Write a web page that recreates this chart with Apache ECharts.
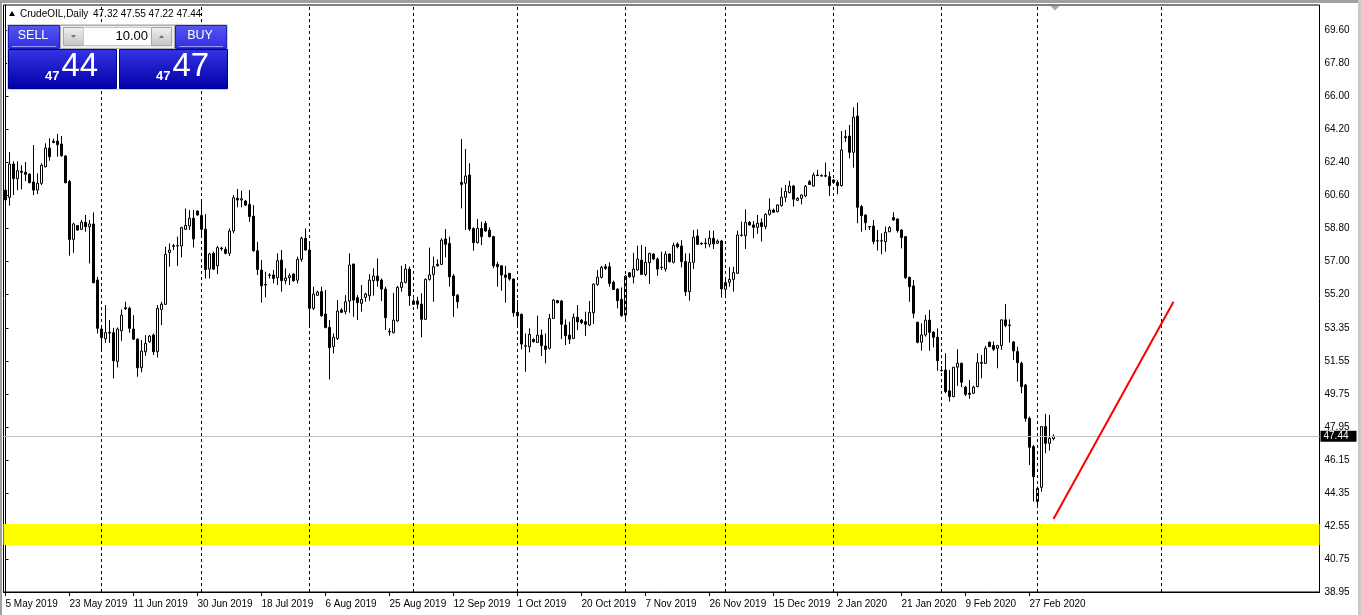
<!DOCTYPE html>
<html><head><meta charset="utf-8">
<script src="https://cdn.jsdelivr.net/npm/echarts@6/dist/echarts.min.js"></script>
<style>html,body{margin:0;padding:0;background:#fff;overflow:hidden}#c{width:1361px;height:615px}</style>
</head><body><div id="c"></div>
<script>
// ---- data (daily candles, 6 bars per week Sun..Fri) ----
const startDate = [2019, 4, 5]; // 5 May 2019 (first bar)
const opens = [60.87,60.47,62.29,61.49,61.89,61.84,61.74,61.31,60.87,61.24,62.14,63.16,63.53,63.54,63.38,62.73,61.34,58.18,58.94,58.73,59.11,58.87,59.02,55.96,53.29,52.76,53.11,53.09,51.53,53.20,54.45,54.42,53.29,52.74,51.18,52.05,52.60,52.96,52.05,54.36,54.64,57.47,57.80,57.82,57.82,58.73,58.91,59.33,59.73,59.49,58.73,56.56,57.42,56.74,57.71,57.64,57.42,58.64,60.42,60.33,60.27,60.09,59.45,57.56,56.51,55.73,56.24,56.24,56.09,57.05,55.93,56.09,56.29,55.96,57.09,58.24,57.60,54.42,55.13,55.33,54.11,53.38,52.33,52.78,54.33,54.24,54.82,56.84,55.00,54.69,55.02,55.11,55.93,56.18,55.96,55.47,53.16,53.09,53.73,55.56,55.84,56.56,54.64,54.82,54.65,53.82,56.00,56.27,56.82,56.82,58.20,57.96,56.18,55.14,61.29,61.24,61.69,58.78,58.00,58.78,59.05,58.69,58.33,56.82,56.74,56.24,56.33,56.02,54.20,54.09,52.38,52.33,52.73,52.56,52.96,52.36,52.24,53.87,54.84,54.82,53.51,52.96,52.78,53.93,53.78,53.69,53.51,54.18,55.73,56.11,56.69,56.69,55.84,55.47,54.91,54.05,56.36,56.14,56.51,57.05,56.27,56.91,57.38,57.11,56.67,56.56,57.38,56.93,57.93,57.82,56.97,55.33,56.93,58.37,57.96,57.98,57.91,58.24,57.97,58.09,55.46,55.84,56.00,56.33,58.42,58.38,59.11,58.97,58.84,59.09,58.88,59.55,59.78,59.69,60.02,60.48,60.73,61.09,60.31,60.42,60.55,61.33,61.09,61.69,61.66,61.66,61.60,61.42,61.29,61.11,63.78,63.82,62.93,64.91,59.97,59.51,58.88,58.91,58.11,58.10,58.06,58.60,59.37,59.29,58.69,58.33,56.11,55.64,53.66,52.57,52.97,53.78,53.11,52.84,51.04,51.06,49.92,49.61,51.21,51.42,50.12,49.79,49.79,50.15,51.46,51.42,52.57,52.39,52.24,52.39,53.79,53.51,52.59,52.06,51.42,50.24,48.42,46.88,43.88,44.66,47.97,47.06,47.32];
const highs = [60.95,62.94,62.44,62.44,62.22,62.40,61.78,63.33,61.78,62.33,63.42,63.69,63.67,63.93,63.82,62.78,61.42,59.09,58.96,59.24,59.51,59.24,59.65,56.14,53.42,54.60,53.78,53.35,53.38,54.36,54.78,54.51,54.05,52.78,52.69,52.96,52.96,53.05,54.60,54.78,57.78,57.96,57.93,58.33,58.87,59.87,59.78,59.78,59.75,60.27,59.56,57.45,57.51,57.82,57.78,57.78,58.78,60.60,60.93,60.84,60.33,60.87,60.05,58.05,57.05,56.42,56.33,56.51,57.42,57.60,56.60,56.33,56.33,57.24,58.33,58.78,57.96,55.60,55.38,55.60,55.42,53.78,53.05,54.87,54.42,55.14,57.42,56.84,55.14,55.69,55.27,56.29,56.60,57.14,56.05,55.60,53.33,55.27,55.64,56.74,56.84,56.69,54.96,55.05,55.24,56.05,57.73,57.24,57.09,58.24,58.74,58.33,56.29,55.20,63.65,63.11,62.33,58.84,59.29,59.14,59.18,58.84,58.38,56.96,56.78,56.74,56.33,56.05,54.87,54.14,53.05,53.33,52.78,54.02,53.27,53.05,54.11,54.93,54.87,54.87,53.82,53.69,54.14,54.60,53.84,54.24,54.82,55.78,56.51,56.74,56.84,56.93,55.93,55.51,55.56,56.24,56.38,57.45,57.84,57.87,57.78,57.45,57.42,57.20,57.51,57.54,57.42,58.00,58.02,58.14,57.42,57.42,58.69,58.73,58.02,58.24,58.66,58.66,58.18,58.15,56.02,56.66,56.69,58.66,59.15,59.82,59.18,59.18,59.51,59.33,59.60,60.42,59.86,60.09,61.00,61.15,61.38,61.15,60.48,60.64,61.15,61.42,61.82,61.97,61.73,62.37,61.88,61.46,61.42,64.09,64.15,64.42,65.38,65.64,60.06,59.55,58.88,59.24,58.69,58.51,58.88,58.91,59.66,59.33,58.73,58.37,56.15,55.97,53.69,53.60,54.06,54.33,53.18,53.33,51.28,51.97,51.06,51.21,52.19,51.46,50.19,50.52,50.19,51.97,51.88,52.37,52.61,52.61,52.43,53.82,54.66,53.82,52.62,52.33,51.52,50.30,48.52,46.97,44.70,47.97,48.66,48.61,47.55];
const lows = [60.23,60.02,60.60,60.87,60.91,61.36,61.24,60.60,60.65,61.14,62.11,62.47,63.42,62.69,62.69,61.24,57.29,57.45,58.65,58.69,58.60,56.87,55.78,53.05,52.14,52.54,52.54,50.60,51.20,52.65,54.33,53.09,52.69,50.69,50.93,51.82,52.54,51.87,51.74,53.51,54.60,56.69,57.60,56.74,57.20,58.69,58.69,57.74,59.48,58.33,56.05,56.05,56.51,56.29,57.56,57.36,57.27,58.51,59.93,59.93,60.00,59.14,57.51,56.24,54.73,55.02,56.05,55.78,55.69,55.33,55.73,55.69,55.87,55.78,56.96,57.56,53.51,54.33,55.11,53.96,53.33,50.54,51.96,52.69,54.18,54.09,54.18,53.96,53.78,54.24,54.78,54.84,55.11,55.60,54.82,53.24,52.93,53.05,53.69,55.33,55.78,54.56,54.60,54.38,52.84,53.78,55.93,54.78,56.69,56.78,57.20,55.60,53.96,54.42,59.87,58.69,58.64,57.56,57.96,57.87,58.60,58.29,56.60,55.60,55.38,54.73,55.93,53.96,53.42,52.18,50.96,52.02,52.56,52.54,51.82,51.42,52.18,53.84,54.69,52.74,52.42,52.47,52.74,53.24,53.56,52.91,53.45,53.56,55.65,56.05,56.51,55.60,55.42,54.42,53.96,53.69,56.10,55.78,56.47,56.24,56.18,55.74,57.05,56.20,56.51,56.42,56.93,56.87,57.69,56.65,55.09,54.84,56.57,57.88,57.88,57.69,57.75,57.66,57.93,55.00,55.15,55.60,55.33,56.29,58.33,57.66,58.93,58.24,58.48,58.06,58.73,59.48,59.64,59.66,59.97,60.22,60.69,59.97,60.29,60.09,60.48,61.15,61.06,61.64,61.60,61.57,60.55,61.24,60.64,61.06,63.51,62.60,62.09,59.06,58.60,58.69,58.69,57.91,57.57,57.37,57.51,58.57,59.20,58.55,57.69,56.02,54.78,53.88,52.51,52.11,52.88,52.11,52.29,51.02,50.97,49.79,49.33,49.57,50.19,50.12,49.64,49.48,49.75,50.12,50.61,51.39,52.33,52.10,51.15,52.15,53.39,52.55,51.61,50.42,49.79,48.24,45.88,43.88,43.61,44.42,46.52,46.66,47.22];
const closes = [60.33,62.29,61.49,61.93,61.84,61.73,61.27,60.87,61.24,62.22,63.16,62.69,63.47,63.34,62.74,61.27,58.18,59.02,58.69,59.11,58.87,59.02,55.82,53.33,52.82,53.09,53.07,51.56,53.29,54.05,54.40,53.33,52.74,51.18,52.09,52.51,52.91,52.05,54.42,54.65,57.36,57.60,57.84,57.84,58.82,58.94,59.33,58.20,59.51,58.73,56.54,57.38,56.56,57.73,57.67,57.42,58.64,60.45,60.33,60.40,60.05,59.42,57.56,56.54,55.65,55.69,56.22,56.05,57.02,55.93,56.07,56.20,55.93,57.09,58.24,57.60,54.42,55.20,55.31,54.02,53.38,52.27,52.84,54.27,54.20,54.78,56.78,54.87,54.73,54.91,55.20,55.96,56.18,55.93,55.47,53.91,53.13,53.78,55.56,55.84,56.56,55.11,54.82,54.64,53.82,56.00,56.24,56.69,56.74,58.14,57.91,56.14,55.11,54.78,61.18,61.64,58.74,58.00,58.78,58.33,58.64,58.33,56.74,56.69,56.24,56.11,56.02,54.18,54.02,52.47,52.36,53.00,52.60,52.96,52.38,52.18,53.87,54.87,54.73,53.55,52.93,52.74,53.93,53.69,53.64,53.55,54.20,55.74,56.11,56.65,56.60,55.78,55.45,54.84,54.02,56.18,56.14,56.56,57.11,56.27,56.93,57.42,57.11,56.56,56.65,57.38,56.96,57.85,57.78,56.97,55.33,56.93,58.29,57.91,57.93,57.95,58.24,57.93,58.09,55.48,55.82,56.00,56.37,58.42,58.40,59.11,58.97,58.84,59.06,58.88,59.55,59.78,59.66,60.06,60.48,60.80,61.09,60.37,60.42,60.60,61.08,61.18,61.69,61.66,61.64,61.63,61.11,61.29,61.11,63.06,63.73,62.93,64.84,59.93,59.48,59.09,58.86,58.06,58.09,58.09,58.57,58.82,59.24,58.66,58.28,56.09,55.60,54.15,52.57,52.97,53.78,53.11,52.84,51.57,51.02,49.88,49.61,51.21,51.42,50.39,49.73,49.73,50.12,51.46,51.42,52.24,52.33,52.19,52.39,53.79,53.48,53.49,52.10,51.46,50.15,48.42,46.84,45.24,44.61,47.97,47.06,47.33,47.44];
const yTickLabels = ['38.95','40.75','42.55','44.35','46.15','47.95','49.75','51.55','53.35','55.20','57.00','58.80','60.60','62.40','64.20','66.00','67.80','69.60'];
const monthSeparators = [24, 49, 76, 102, 128, 155, 180, 207, 234, 258, 289]; // bar indices
const lastPrice = 47.44;
const supportZone = [41.51, 42.66];
const trendLine = [[262, 42.93], [292, 54.78]];
const headerSymbol = 'CrudeOIL,Daily';
const headerOHLC = '47.32 47.55 47.22 47.44';
const lotText = '10.00';
const bidParts = ['47', '44'];
const askParts = ['47', '47'];
const yMin = 38.95, yMax = 70.963;
const totalSlots = 329; // bars + empty chart shift space
const labelEvery = 16;

// ---- categories (trading calendar Sun..Fri) ----
const MONTHS = ['Jan','Feb','Mar','Apr','May','Jun','Jul','Aug','Sep','Oct','Nov','Dec'];
const categories = [];
let t = Date.UTC(startDate[0], startDate[1], startDate[2]);
while (categories.length < totalSlots) {
  const d = new Date(t);
  if (d.getUTCDay() !== 6) categories.push(d.getUTCDate() + ' ' + MONTHS[d.getUTCMonth()] + ' ' + d.getUTCFullYear());
  t += 86400000;
}
const nBars = opens.length;
const candleData = opens.map((o, i) => [o, closes[i], lows[i], highs[i]]);
const yTickValues = yTickLabels.map(Number);
const showLabel = (idx) => idx % labelEvery === 0 && idx < nBars;

const FONT = '"Liberation Sans", Arial, sans-serif';
const chart = echarts.init(document.getElementById('c'), null, {renderer: 'canvas'});

function panelGraphics() {
  const g = [];
  const btnGrad = new echarts.graphic.LinearGradient(0, 0, 0, 1, [{offset: 0, color: '#5656f2'}, {offset: 1, color: '#2e2ee2'}]);
  const boxGrad = new echarts.graphic.LinearGradient(0, 0, 0, 1, [{offset: 0, color: '#3434e4'}, {offset: 1, color: '#0000a6'}]);
  const grayGrad = new echarts.graphic.LinearGradient(0, 0, 0, 1, [{offset: 0, color: '#f0f0f0'}, {offset: 1, color: '#c4c4c4'}]);
  // header
  g.push({type: 'polygon', z: 100, shape: {points: [[9, 16], [15, 16], [12, 11]]}, style: {fill: '#000'}});
  g.push({type: 'text', z: 100, x: 20, y: 14, style: {text: headerSymbol, font: '10px ' + FONT, fill: '#000', verticalAlign: 'middle'}});
  g.push({type: 'text', z: 100, x: 93, y: 14, style: {text: headerOHLC, font: '10px ' + FONT, fill: '#000', verticalAlign: 'middle'}});
  // top buttons row
  g.push({type: 'rect', z: 100, shape: {x: 7.5, y: 24.5, width: 220, height: 65}, style: {fill: '#fff', stroke: '#d0d0d0'}});
  g.push({type: 'rect', z: 101, shape: {x: 8.5, y: 25.5, width: 51, height: 23}, style: {fill: btnGrad, stroke: '#2020b0'}});
  g.push({type: 'line', z: 102, shape: {x1: 12, y1: 46.5, x2: 56, y2: 46.5}, style: {stroke: '#9a9aff', lineWidth: 1}});
  g.push({type: 'text', z: 102, x: 33, y: 36, style: {text: 'SELL', font: '12.5px ' + FONT, fill: '#fff', align: 'center', verticalAlign: 'middle'}});
  g.push({type: 'rect', z: 101, shape: {x: 175.5, y: 25.5, width: 51, height: 23}, style: {fill: btnGrad, stroke: '#2020b0'}});
  g.push({type: 'line', z: 102, shape: {x1: 179, y1: 46.5, x2: 223, y2: 46.5}, style: {stroke: '#9a9aff', lineWidth: 1}});
  g.push({type: 'text', z: 102, x: 200, y: 36, style: {text: 'BUY', font: '12.5px ' + FONT, fill: '#fff', align: 'center', verticalAlign: 'middle'}});
  // lot box
  g.push({type: 'rect', z: 101, shape: {x: 60.5, y: 25.5, width: 114, height: 23}, style: {fill: '#ececec', stroke: '#b0b0b0'}});
  g.push({type: 'rect', z: 102, shape: {x: 63.5, y: 27.5, width: 20, height: 18}, style: {fill: grayGrad, stroke: '#a8a8a8'}});
  g.push({type: 'polygon', z: 103, shape: {points: [[71, 35], [76, 35], [73.5, 38]]}, style: {fill: '#6a6aa8'}});
  g.push({type: 'rect', z: 102, shape: {x: 83.5, y: 27.5, width: 68, height: 18}, style: {fill: '#fff', stroke: '#c8c8c8'}});
  g.push({type: 'text', z: 103, x: 148, y: 36.5, style: {text: lotText, font: '13px ' + FONT, fill: '#000', align: 'right', verticalAlign: 'middle'}});
  g.push({type: 'rect', z: 102, shape: {x: 151.5, y: 27.5, width: 20, height: 18}, style: {fill: grayGrad, stroke: '#a8a8a8'}});
  g.push({type: 'polygon', z: 103, shape: {points: [[159, 38], [164, 38], [161.5, 35]]}, style: {fill: '#6a6aa8'}});
  // price boxes
  const boxes = [[8.5, bidParts], [119.5, askParts]];
  boxes.forEach(([bx, parts]) => {
    g.push({type: 'rect', z: 101, shape: {x: bx, y: 49.5, width: 108, height: 39}, style: {fill: boxGrad, stroke: '#000090'}});
    g.push({type: 'text', z: 102, x: bx + 51, y: 76, style: {text: parts[0], font: 'bold 13px ' + FONT, fill: '#fff', align: 'right', verticalAlign: 'middle'}});
    g.push({type: 'text', z: 102, x: bx + 53, y: 67, style: {text: parts[1], font: '33px ' + FONT, fill: '#fff', align: 'left', verticalAlign: 'middle'}});
  });
  // chart shift marker
  g.push({type: 'polygon', z: 100, shape: {points: [[1050.5, 6], [1059.5, 6], [1055, 10.5]]}, style: {fill: '#a8a8a8'}});
  // window frame
  g.push({type: 'rect', z: 99, shape: {x: 0, y: 0, width: 1361, height: 3}, style: {fill: '#a0a0a0'}});
  g.push({type: 'rect', z: 99, shape: {x: 0, y: 0, width: 2, height: 615}, style: {fill: '#a0a0a0'}});
  g.push({type: 'rect', z: 99, shape: {x: 1358, y: 0, width: 3, height: 615}, style: {fill: '#c8c8c8'}});
  return g;
}

const option = {
  animation: false,
  backgroundColor: '#fff',
  grid: {left: 3.5, right: 41.5, top: 5, bottom: 23, show: true, borderColor: '#000', borderWidth: 1, backgroundColor: '#fff', containLabel: false},
  xAxis: [
    {type: 'category', data: categories, boundaryGap: true, gridIndex: 0,
      axisLine: {show: true, lineStyle: {color: '#000', width: 1}},
      axisTick: {show: true, alignWithLabel: true, interval: showLabel, length: 4, lineStyle: {color: '#000'}},
      axisLabel: {show: true, interval: showLabel, align: 'left', margin: 7, color: '#000', fontSize: 10, fontFamily: FONT},
      splitLine: {show: false}},
    {type: 'value', min: -0.5, max: totalSlots - 0.5, show: false, gridIndex: 0, splitLine: {show: false}}
  ],
  yAxis: {type: 'value', position: 'right', min: yMin, max: yMax,
    axisLine: {show: true, lineStyle: {color: '#000', width: 1}},
    axisTick: {show: true, length: 3, customValues: yTickValues, lineStyle: {color: '#000'}},
    axisLabel: {show: true, customValues: yTickValues, formatter: (v) => Number(v).toFixed(2), margin: 5, color: '#000', fontSize: 10, fontFamily: FONT},
    splitLine: {show: false}},
  graphic: panelGraphics(),
  series: [
    {name: 'zone', type: 'line', xAxisIndex: 1, data: [], z: 1, silent: true,
      markArea: {silent: true, itemStyle: {color: '#ffff00', opacity: 1}, data: [[{yAxis: supportZone[0]}, {yAxis: supportZone[1]}]]}},
    {name: 'separators', type: 'line', xAxisIndex: 1, data: [], z: 2, silent: true,
      markLine: {silent: true, symbol: 'none', animation: false, label: {show: false},
        lineStyle: {color: '#000', type: [3, 3], width: 1},
        data: monthSeparators.map((i) => ({xAxis: i}))}},
    {name: 'price', type: 'line', xAxisIndex: 1, data: [], z: 3, silent: true,
      markLine: {silent: true, symbol: 'none', animation: false,
        lineStyle: {color: '#c0c0c0', type: 'solid', width: 1},
        label: {show: true, position: 'end', distance: 1, formatter: () => lastPrice.toFixed(2), color: '#fff', backgroundColor: '#000', padding: [1, 8, 0, 3], fontSize: 10, fontFamily: FONT},
        data: [{yAxis: lastPrice}]}},
    {name: 'CrudeOIL', type: 'candlestick', xAxisIndex: 0, data: candleData, z: 4, barWidth: 3,
      itemStyle: {color: '#fff', color0: '#000', borderColor: '#000', borderColor0: '#000', borderWidth: 1}},
    {name: 'trend', type: 'line', xAxisIndex: 1, data: trendLine, z: 5, symbol: 'none', silent: true,
      lineStyle: {color: '#ff0000', width: 2}}
  ]
};
chart.setOption(option);
</script>
</body></html>
